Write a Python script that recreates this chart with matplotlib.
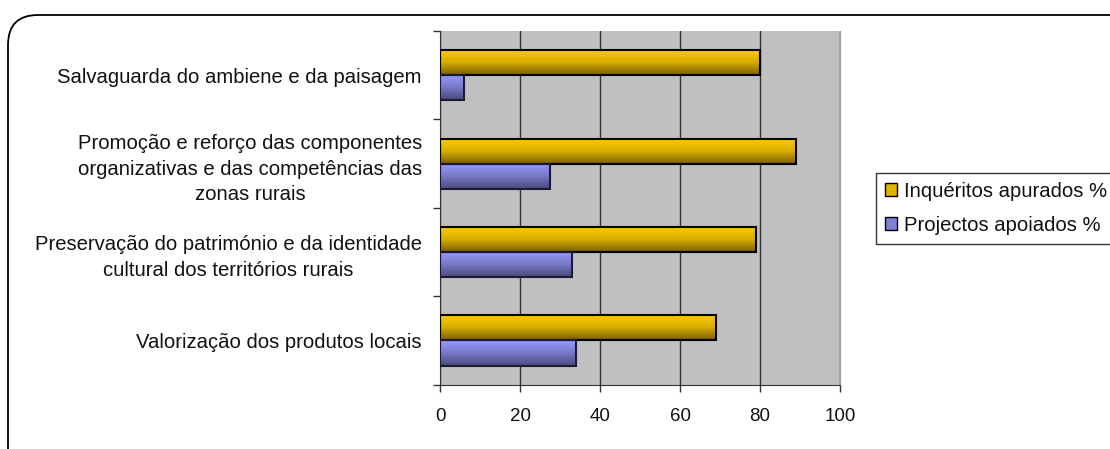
import numpy as np
import matplotlib.pyplot as plt
from matplotlib.colors import LinearSegmentedColormap
from matplotlib.patches import FancyBboxPatch, Patch
from matplotlib.transforms import IdentityTransform

plt.rcParams['font.family'] = ['Liberation Sans', 'DejaVu Sans']

# categories, bottom to top
categories = [
    'Valorização dos produtos locais',
    'Preservação do património e da identidade\ncultural dos territórios rurais',
    'Promoção e reforço das componentes\norganizativas e das competências das\nzonas rurais',
    'Salvaguarda do ambiene e da paisagem',
]
inqueritos = [69, 79, 89, 80]
projectos = [34, 33, 27.5, 6]
series_names = ['Inquéritos apurados %', 'Projectos apoiados %']

yellow_cmap = LinearSegmentedColormap.from_list('yel', ['#7a6000', '#d9ad00', '#ffcc00'])
blue_cmap = LinearSegmentedColormap.from_list('blu', ['#4a4a7c', '#7878c8', '#9999ff'])

fig = plt.figure(figsize=(11.1, 4.49), dpi=100)
ax = fig.add_axes([0.3964, 0.1432, 0.3604, 0.7878])
ax.set_facecolor('#c0c0c0')

y = np.arange(len(categories))
h = 0.283
bars_y = ax.barh(y + h / 2, inqueritos, height=h, facecolor='none',
                 edgecolor='black', linewidth=1.5, zorder=3)
bars_b = ax.barh(y - h / 2, projectos, height=h, facecolor='none',
                 edgecolor='#1a1a33', linewidth=1.5, zorder=3)

# vertical gradient fill inside each bar
grad = np.linspace(0, 1, 64).reshape(-1, 1)
for bars, cmap in [(bars_y, yellow_cmap), (bars_b, blue_cmap)]:
    for p in bars:
        x0, y0 = p.get_x(), p.get_y()
        im = ax.imshow(grad, extent=[x0, x0 + p.get_width(), y0, y0 + p.get_height()],
                       origin='lower', aspect='auto', cmap=cmap, zorder=2.5,
                       interpolation='bilinear')
        im.set_clip_path(p)

ax.set_xlim(0, 100)
ax.set_ylim(-0.5, len(categories) - 0.5)
ax.set_xticks(np.arange(0, 101, 20))
ax.xaxis.grid(True, color='#333333', linewidth=1.0)
ax.set_axisbelow(True)
ax.tick_params(axis='x', direction='out', length=5, width=1, color='#333333',
               labelsize=13.5, pad=12, labelcolor='#111111')

ax.set_yticks(y)
ax.set_yticklabels(categories, fontsize=14.6, multialignment='center', linespacing=1.45,
                   color='#111111')
ax.set_yticks(np.arange(-0.5, len(categories)), minor=True)
ax.tick_params(axis='y', which='major', length=0, pad=13)
ax.tick_params(axis='y', which='minor', direction='out', length=5, width=1, color='#333333')

ax.spines['top'].set_visible(False)
ax.spines['right'].set_color('#999999')
ax.spines['left'].set_color('#333333')
ax.spines['bottom'].set_color('#333333')

# legend
handles = [Patch(facecolor='#e0b400', edgecolor='black'),
           Patch(facecolor='#7f7fd8', edgecolor='black')]
leg = fig.legend(handles, series_names, loc='upper left', bbox_to_anchor=(0.789, 0.615),
                 bbox_transform=fig.transFigure, borderaxespad=0, fancybox=False,
                 edgecolor='black', fontsize=14.6, handlelength=0.6, handleheight=0.6,
                 handletextpad=0.35, borderpad=0.45, labelspacing=0.72)
leg.get_frame().set_linewidth(1.0)
for t in leg.get_texts():
    t.set_color('#111111')

# rounded chart border (runs off right and bottom edges)
border = FancyBboxPatch((8, -40), 1160, 474, boxstyle='round,pad=0,rounding_size=30',
                        transform=IdentityTransform(), facecolor='none',
                        edgecolor='black', linewidth=1.3)
fig.add_artist(border)

fig.savefig('out.png', dpi=100)
